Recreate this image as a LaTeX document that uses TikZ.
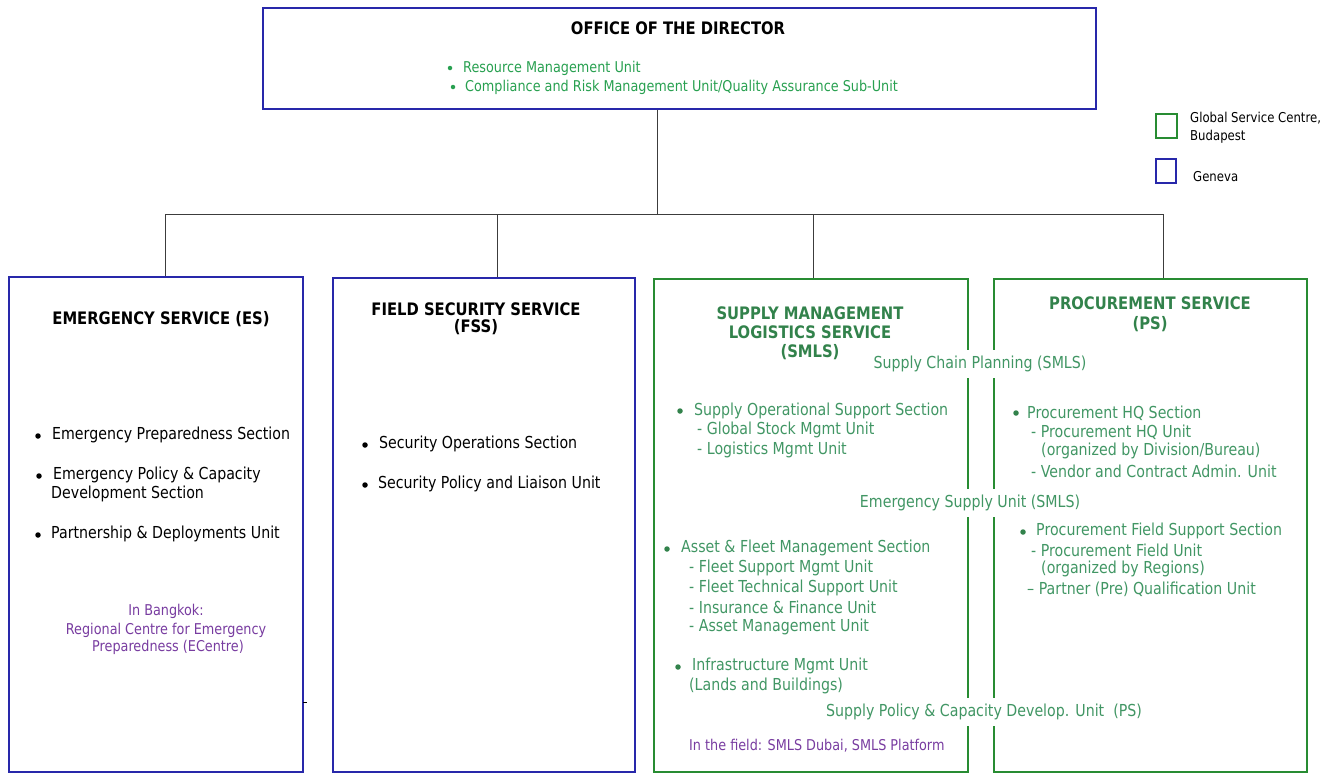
\documentclass[tikz,border=0pt]{standalone}
\usepackage{fontspec}
\setmainfont{DejaVu Sans}[FakeStretch=0.86]
\definecolor{boxblue}{RGB}{40,40,170}
\definecolor{boxgreen}{RGB}{40,140,50}
\definecolor{txtgreen}{RGB}{65,150,100}
\definecolor{odgreen}{RGB}{40,160,80}
\definecolor{ttlgreen}{RGB}{50,130,75}
\definecolor{purp}{RGB}{120,60,160}
\definecolor{linegray}{RGB}{60,60,60}
\tikzset{
  bluebox/.style={draw=boxblue, line width=1.8pt, anchor=north west, inner sep=0pt},
  greenbox/.style={draw=boxgreen, line width=1.8pt, anchor=north west, inner sep=0pt},
  conn/.style={draw=linegray, line width=0.9pt},
  ttl/.style={font=\fontsize{17.2}{19}\selectfont\bfseries, inner sep=0pt, anchor=center},
  txt/.style={font=\fontsize{16.5}{19}\selectfont, inner sep=0pt, anchor=west},
  smalltxt/.style={font=\fontsize{14.9}{17}\selectfont, inner sep=0pt, anchor=west},
  legtxt/.style={font=\fontsize{13.6}{15}\selectfont, inner sep=0pt, anchor=west},
  gtxt/.style={txt, text=txtgreen},
  ptxt/.style={font=\fontsize{14.9}{17}\selectfont, inner sep=0pt, anchor=center, text=purp},
  span/.style={font=\fontsize{16.5}{19}\selectfont, text=txtgreen, fill=white, inner xsep=2pt, inner ysep=6pt, anchor=center},
  dot/.style={circle, fill=black, inner sep=0pt, minimum size=5.5pt},
  gdot/.style={dot, fill=ttlgreen},
  odot/.style={dot, fill=odgreen, minimum size=4.5pt},
}
\begin{document}
\begin{tikzpicture}[x=1pt,y=-1pt]
\useasboundingbox (0,0) rectangle (1329,772);
% boxes
\node[bluebox, minimum width=833pt, minimum height=101pt] (od) at (262,7) {};
\node[bluebox, minimum width=294pt, minimum height=495pt] (es) at (8,276) {};
\node[bluebox, minimum width=302pt, minimum height=494pt] (fss) at (332,277) {};
\node[greenbox, minimum width=314pt, minimum height=493pt] (smls) at (653,278) {};
\node[greenbox, minimum width=313pt, minimum height=493pt] (ps) at (993,278) {};
% connectors
\coordinate (bus) at (657,214);
\coordinate (busL) at (165,214);
\coordinate (busB) at (497,214);
\coordinate (busC) at (813,214);
\coordinate (busR) at (1163,214);
\draw[conn] (bus |- od.south) -- (bus);
\draw[conn] (busL) -- (busR);
\draw[conn] (busL) -- (busL |- es.north);
\draw[conn] (busB) -- (busB |- fss.north);
\draw[conn] (busC) -- (busC |- smls.north);
\draw[conn] (busR) -- (busR |- ps.north);
% office
\node[ttl] (odt) at (678,28) {OFFICE OF THE DIRECTOR};
\node[odot] (odb1) at (450,68) {};
\node[smalltxt, text=odgreen] (od1) at (463,68) {Resource Management Unit};
\node[odot] (odb2) at (453,87) {};
\node[smalltxt, text=odgreen] (od2) at (465,87) {Compliance and Risk Management Unit/Quality Assurance Sub-Unit};
% legend
\node[draw=boxgreen, line width=1.6pt, minimum width=21pt, minimum height=24pt, inner sep=0pt, anchor=north west] (lg) at (1155,113) {};
\node[legtxt] (lgt1) at (1190,118) {Global Service Centre,};
\node[legtxt] (lgt2) at (1190,137) {Budapest};
\node[draw=boxblue, line width=1.6pt, minimum width=20pt, minimum height=24pt, inner sep=0pt, anchor=north west] (lb) at (1155,158) {};
\node[legtxt] (lbt) at (1193,177) {Geneva};
% ES
\node[ttl] (est) at (161,319) {EMERGENCY SERVICE (ES)};
\node[dot] (esb1) at (38,436) {};
\node[txt] (es1) at (52,435) {Emergency Preparedness Section};
\node[dot] (esb2) at (39,476) {};
\node[txt] (es2a) at (53,475) {Emergency Policy \& Capacity};
\node[txt] (es2b) at (51,494) {Development Section};
\node[dot] (esb3) at (38,535) {};
\node[txt] (es3) at (51,534) {Partnership \& Deployments Unit};
\node[ptxt] (esp1) at (166,611) {In Bangkok:};
\node[ptxt] (esp2) at (166,630) {Regional Centre for Emergency};
\node[ptxt] (esp3) at (168,647) {Preparedness (ECentre)};
\draw[black, line width=0.8pt] (303,702) -- (307,702);
% FSS
\node[ttl] (fsst1) at (476,309) {FIELD SECURITY SERVICE};
\node[ttl] (fsst2) at (476,327) {(FSS)};
\node[dot] (fssb1) at (365,445) {};
\node[txt] (fss1) at (379,444) {Security Operations Section};
\node[dot] (fssb2) at (365,485) {};
\node[txt] (fss2) at (378,484) {Security Policy and Liaison Unit};
% SMLS
\node[ttl, text=ttlgreen] (smt1) at (810,313) {SUPPLY MANAGEMENT};
\node[ttl, text=ttlgreen] (smt2) at (810,332) {LOGISTICS SERVICE};
\node[ttl, text=ttlgreen] (smt3) at (810,352) {(SMLS)};
\node[gdot] (smb1) at (680,411) {};
\node[gtxt] (sm1) at (694,411) {Supply Operational Support Section};
\node[gtxt] (sm1a) at (697,430) {- Global Stock Mgmt Unit};
\node[gtxt] (sm1b) at (697,450) {- Logistics Mgmt Unit};
\node[gdot] (smb2) at (667,549) {};
\node[gtxt] (sm2) at (681,548) {Asset \& Fleet Management Section};
\node[gtxt] (sm2a) at (689,568) {- Fleet Support Mgmt Unit};
\node[gtxt] (sm2b) at (689,588) {- Fleet Technical Support Unit};
\node[gtxt] (sm2c) at (689,607) {- Insurance \& Finance Unit};
\node[gtxt] (sm2d) at (689,627) {- Asset Management Unit};
\node[gdot] (smb3) at (678,667) {};
\node[gtxt] (sm3) at (692,666) {Infrastructure Mgmt Unit};
\node[gtxt] (sm3a) at (689,686) {(Lands and Buildings)};
\node[smalltxt, text=purp] (smp) at (689,746) {In the field: SMLS Dubai, SMLS Platform};
% PS
\node[ttl, text=ttlgreen] (pst1) at (1150,303) {PROCUREMENT SERVICE};
\node[ttl, text=ttlgreen] (pst2) at (1150,324) {(PS)};
\node[gdot] (psb1) at (1016,413) {};
\node[gtxt] (ps1) at (1027,413) {Procurement HQ Section};
\node[gtxt] (ps1a) at (1031,432) {- Procurement HQ Unit};
\node[gtxt] (ps1b) at (1041,451) {(organized by Division/Bureau)};
\node[gtxt] (ps1c) at (1031,471) {- Vendor and Contract Admin. Unit};
\node[gdot] (psb2) at (1023,532) {};
\node[gtxt] (ps2) at (1036,531) {Procurement Field Support Section};
\node[gtxt] (ps2a) at (1031,550) {- Procurement Field Unit};
\node[gtxt] (ps2b) at (1041,569) {(organized by Regions)};
\node[gtxt] (ps2c) at (1027,589) {– Partner (Pre) Qualification Unit};
% spanning labels
\node[span] (sp1) at (980,364) {Supply Chain Planning (SMLS)};
\node[span] (sp2) at (970,503) {Emergency Supply Unit (SMLS)};
\node[span] (sp3) at (984,712) {Supply Policy \& Capacity Develop. Unit\ \ (PS)};
\end{tikzpicture}
\end{document}
